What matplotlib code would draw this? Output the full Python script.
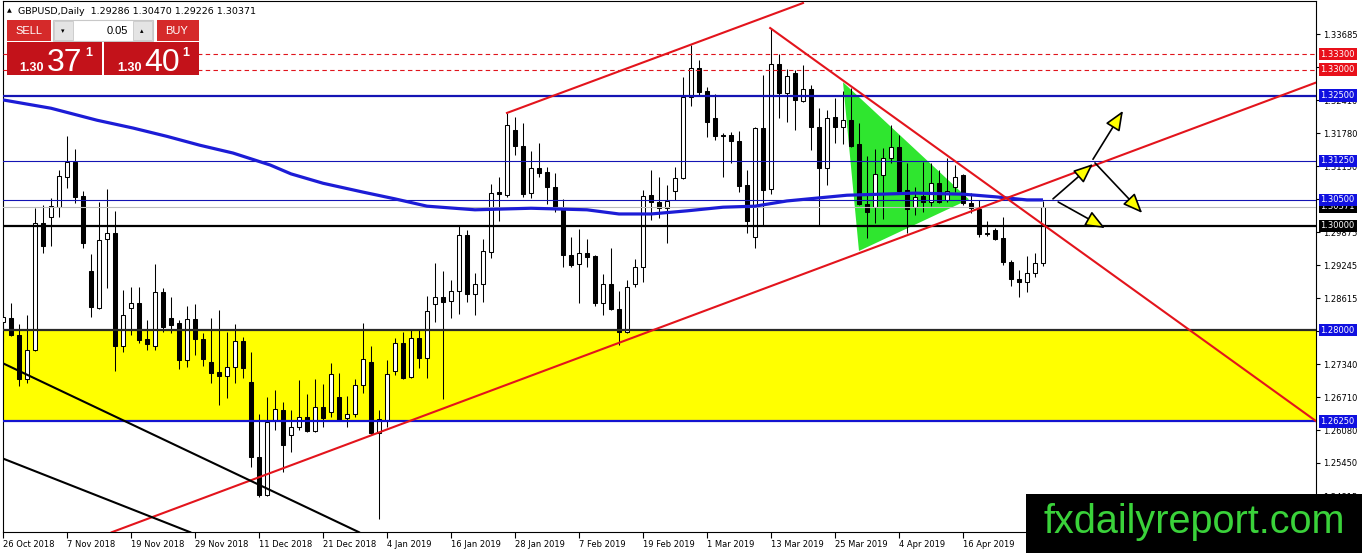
import numpy as np
import pandas as pd
import matplotlib
matplotlib.use("Agg")
import matplotlib.pyplot as plt
from matplotlib.patches import Rectangle, Polygon, FancyArrowPatch

# GBPUSD daily candles, 26 Oct 2018 .. 30 Apr 2019
opens = [
    1.2816, 1.2823, 1.2791, 1.2706, 1.2762, 1.3006, 1.3017, 1.3036, 1.3094, 1.3123,
    1.3058, 1.2914, 1.2842, 1.2975, 1.2986, 1.2770, 1.2842, 1.2852, 1.2783, 1.2770,
    1.2873, 1.2823, 1.2814, 1.2743, 1.2821, 1.2783, 1.2739, 1.2720, 1.2712, 1.2729,
    1.2779, 1.2700, 1.2556, 1.2483, 1.2627, 1.2647, 1.2599, 1.2614, 1.2633, 1.2606,
    1.2652, 1.2643, 1.2672, 1.2631, 1.2639, 1.2695, 1.2739, 1.2602, 1.2627, 1.2722,
    1.2775, 1.2710, 1.2785, 1.2746, 1.2850, 1.2864, 1.2856, 1.2875, 1.2983, 1.2869,
    1.2889, 1.2950, 1.3065, 1.3059, 1.3184, 1.3154, 1.3063, 1.3111, 1.3104, 1.3075,
    1.3034, 1.2944, 1.2927, 1.2948, 1.2942, 1.2852, 1.2889, 1.2840, 1.2796, 1.2889,
    1.2921, 1.3060, 1.3046, 1.3034, 1.3067, 1.3092, 1.3248, 1.3303, 1.3259, 1.3207,
    1.3175, 1.3175, 1.3163, 1.3079, 1.2979, 1.3188, 1.3071, 1.3311, 1.3255, 1.3294,
    1.3240, 1.3263, 1.3190, 1.3111, 1.3209, 1.3190, 1.3203, 1.3157, 1.3042, 1.3036,
    1.3098, 1.3130, 1.3152, 1.3069, 1.3036, 1.3058, 1.3046, 1.3083, 1.3050, 1.3075,
    1.3098, 1.3044, 1.3032, 1.2986, 1.2992, 1.2977, 1.2931, 1.2898, 1.2892, 1.2910,
    1.29286]
highs = [
    1.2839, 1.2852, 1.2812, 1.2829, 1.3034, 1.3040, 1.3054, 1.3107, 1.3173, 1.3148,
    1.3067, 1.2946, 1.3046, 1.3071, 1.3029, 1.2877, 1.2883, 1.2883, 1.2819, 1.2927,
    1.2881, 1.2864, 1.2819, 1.2846, 1.2850, 1.2794, 1.2823, 1.2839, 1.2796, 1.2812,
    1.2787, 1.2758, 1.2639, 1.2672, 1.2685, 1.2662, 1.2647, 1.2704, 1.2677, 1.2706,
    1.2697, 1.2737, 1.2718, 1.2673, 1.2706, 1.2814, 1.2770, 1.2647, 1.2743, 1.2785,
    1.2796, 1.2802, 1.2802, 1.2866, 1.2929, 1.2914, 1.2896, 1.3000, 1.2992, 1.2910,
    1.2975, 1.3081, 1.3094, 1.3217, 1.3209, 1.3198, 1.3144, 1.3159, 1.3113, 1.3102,
    1.3052, 1.2979, 1.2994, 1.2975, 1.2944, 1.2908, 1.2958, 1.2875, 1.2896, 1.2937,
    1.3069, 1.3107, 1.3094, 1.3079, 1.3113, 1.3286, 1.3347, 1.3319, 1.3267, 1.3253,
    1.3178, 1.3180, 1.3182, 1.3107, 1.3190, 1.3290, 1.3380, 1.3330, 1.3301, 1.3299,
    1.3309, 1.3271, 1.3226, 1.3223, 1.3246, 1.3259, 1.3265, 1.3198, 1.3134, 1.3148,
    1.3150, 1.3194, 1.3175, 1.3120, 1.3075, 1.3123, 1.3120, 1.3107, 1.3130, 1.3117,
    1.3100, 1.3063, 1.3050, 1.3010, 1.2996, 1.3017, 1.2935, 1.2915, 1.2942, 1.2948,
    1.30470]
lows = [
    1.2777, 1.2789, 1.2693, 1.2698, 1.2760, 1.2948, 1.2962, 1.3017, 1.3073, 1.3044,
    1.2958, 1.2825, 1.2840, 1.2881, 1.2722, 1.2758, 1.2791, 1.2775, 1.2762, 1.2762,
    1.2796, 1.2794, 1.2725, 1.2729, 1.2752, 1.2731, 1.2698, 1.2656, 1.2670, 1.2698,
    1.2708, 1.2537, 1.2479, 1.2481, 1.2608, 1.2528, 1.2566, 1.2608, 1.2604, 1.2604,
    1.2614, 1.2633, 1.2625, 1.2614, 1.2633, 1.2679, 1.2599, 1.2437, 1.2614, 1.2714,
    1.2706, 1.2708, 1.2727, 1.2708, 1.2816, 1.2668, 1.2823, 1.2831, 1.2854, 1.2829,
    1.2854, 1.2938, 1.3010, 1.3056, 1.3136, 1.3056, 1.3054, 1.3094, 1.3042, 1.3027,
    1.2921, 1.2921, 1.2852, 1.2921, 1.2846, 1.2829, 1.2838, 1.2771, 1.2794, 1.2883,
    1.2892, 1.3011, 1.3015, 1.2967, 1.3050, 1.3090, 1.3230, 1.3251, 1.3171, 1.3165,
    1.3094, 1.3120, 1.3065, 1.2986, 1.2958, 1.3002, 1.3061, 1.3207, 1.3200, 1.3184,
    1.3238, 1.3146, 1.3002, 1.3079, 1.3159, 1.3157, 1.3152, 1.3040, 1.2977, 1.3006,
    1.3013, 1.3120, 1.3063, 1.2986, 1.3021, 1.3027, 1.3038, 1.3044, 1.3046, 1.3065,
    1.3040, 1.3025, 1.2979, 1.2981, 1.2973, 1.2925, 1.2885, 1.2864, 1.2873, 1.2902,
    1.29226]
closes = [
    1.2825, 1.2791, 1.2706, 1.2762, 1.3006, 1.2962, 1.3038, 1.3096, 1.3123, 1.3056,
    1.2967, 1.2844, 1.2973, 1.2986, 1.2770, 1.2829, 1.2852, 1.2781, 1.2773, 1.2873,
    1.2806, 1.2810, 1.2743, 1.2821, 1.2783, 1.2745, 1.2718, 1.2712, 1.2729, 1.2779,
    1.2727, 1.2556, 1.2483, 1.2624, 1.2649, 1.2579, 1.2614, 1.2633, 1.2606, 1.2652,
    1.2631, 1.2716, 1.2627, 1.2639, 1.2695, 1.2745, 1.2602, 1.2629, 1.2716, 1.2775,
    1.2708, 1.2785, 1.2746, 1.2837, 1.2864, 1.2854, 1.2875, 1.2983, 1.2869, 1.2889,
    1.2952, 1.3063, 1.3061, 1.3194, 1.3154, 1.3061, 1.3111, 1.3102, 1.3075, 1.3034,
    1.2944, 1.2925, 1.2948, 1.2940, 1.2852, 1.2889, 1.2840, 1.2796, 1.2883, 1.2921,
    1.3058, 1.3046, 1.3034, 1.3048, 1.3092, 1.3248, 1.3303, 1.3257, 1.3200, 1.3173,
    1.3173, 1.3163, 1.3077, 1.3010, 1.3188, 1.3069, 1.3311, 1.3255, 1.3288, 1.3242,
    1.3263, 1.3190, 1.3111, 1.3207, 1.3190, 1.3203, 1.3154, 1.3042, 1.3027, 1.3100,
    1.3130, 1.3152, 1.3067, 1.3032, 1.3056, 1.3046, 1.3083, 1.3046, 1.3067, 1.3094,
    1.3044, 1.3034, 1.2985, 1.2985, 1.2975, 1.2931, 1.2898, 1.2892, 1.2910, 1.2929,
    1.30371]

# moving average, sampled along the curve (bar index, price)
ma_idx = [0, 6, 11.75, 16.25, 20.5, 24.6, 28.75, 33.4, 36, 40, 45, 49, 53, 59, 66,
          73, 77, 81, 85.5, 90, 94, 98, 105.5, 114, 120, 124, 128, 130]
ma_vals = [1.3242, 1.3226, 1.3203, 1.3188, 1.3172, 1.3155, 1.3140, 1.3117, 1.3100,
           1.3082, 1.3065, 1.3052, 1.3038, 1.3031, 1.3034, 1.3031, 1.3023, 1.3023,
           1.3029, 1.3036, 1.3038, 1.3048, 1.3059, 1.3063, 1.3061, 1.3056, 1.3050,
           1.3050]

# horizontal levels
red_levels = [1.3330, 1.3300]
blue_levels = [1.3250, 1.3125, 1.3050]
key_level = 1.3000
zone = (1.2625, 1.2800)
current_price = closes[-1]

price_ticks = [1.33685, 1.33050, 1.32410, 1.31780, 1.31150, 1.30515, 1.29875,
               1.29245, 1.28615, 1.27980, 1.27340, 1.26710, 1.26080, 1.25450, 1.24815]
# labels that sit completely under a level badge on the chart
hidden_ticks = [1.33050, 1.30515, 1.27980]

# drawn objects (bar index, price)
channel_upper = [(63.0, 1.3217), (100.0, 1.3428)]
channel_lower = [(13.6, 1.2412), (164.25, 1.3276)]
down_line = [(95.9, 1.3380), (164.25, 1.2624)]
black_lines = [[(-0.1, 1.2737), (44.5, 1.2412)], [(-0.1, 1.2554), (23.4, 1.2412)]]
pennant = [(105.0, 1.3276), (107.0, 1.2952), (120.75, 1.3051)]
arrows = [[(131.25, 1.3052), (136.25, 1.3119)],
          [(136.25, 1.3128), (140.0, 1.3221)],
          [(136.5, 1.3121), (142.4, 1.3025)],
          [(131.9, 1.3046), (137.75, 1.2996)]]

dates = pd.bdate_range("2018-10-26", "2019-04-30")
dates = dates[~dates.isin(pd.to_datetime(["2018-12-25", "2019-01-01"]))]

W, H = 1362, 553
fig = plt.figure(figsize=(W / 100, H / 100), dpi=100)
ax = fig.add_axes([2.5 / W, (H - 532) / H, 1314 / W, 531 / H])

o = np.array(opens); c = np.array(closes); hi = np.array(highs); lo = np.array(lows)
x = np.arange(len(o))

ax.axhspan(zone[0], zone[1], color="#ffff00", lw=0, zorder=0.5)
ax.add_patch(Polygon(pennant, closed=True, fc="#2fe62f", ec="none", zorder=1))

# candles
ax.vlines(x, lo, hi, color="black", lw=0.75, zorder=3)
body_lo = np.minimum(o, c)
body_h = np.maximum(np.abs(c - o), 0.00008)
ax.bar(x, body_h, bottom=body_lo, width=0.62,
       color=np.where(c >= o, "white", "black"), edgecolor="black",
       linewidth=0.75, zorder=4)

for lv in red_levels:
    ax.axhline(lv, color="#e0141c", lw=0.8, dashes=(4, 3), zorder=5)
ax.axhline(blue_levels[0], color="#1414b4", lw=1.6, zorder=5)
for lv in blue_levels[1:]:
    ax.axhline(lv, color="#1414b4", lw=0.8, zorder=5)
ax.axhline(current_price, color="#bdbdbd", lw=0.8, zorder=4.5)
ax.axhline(key_level, color="black", lw=1.6, zorder=5)
ax.axhline(zone[1], color="#2a2a2a", lw=1.6, zorder=5)
ax.axhline(zone[0], color="#1414d0", lw=1.6, zorder=5)

ax.plot(ma_idx, ma_vals, color="#1c1cd6", lw=2.3, zorder=5.5,
        solid_capstyle="butt", solid_joinstyle="round")

for seg in [channel_upper, channel_lower, down_line]:
    xs, ys = zip(*seg)
    ax.plot(xs, ys, color="#e3141c", lw=1.5, zorder=6)
for seg in black_lines:
    xs, ys = zip(*seg)
    ax.plot(xs, ys, color="black", lw=1.5, zorder=6)

for start, end in arrows:
    ax.add_patch(FancyArrowPatch(start, end, arrowstyle="-|>,head_length=1.2,head_width=0.5",
                                 mutation_scale=10, shrinkA=0, shrinkB=0,
                                 fc="#ffff00", ec="black", lw=1.2, zorder=7))

ax.set_xlim(-0.0625, 164.19)
ax.set_ylim(1.24124, 1.34319)

# axes, MT4 style
ax.yaxis.tick_right()
ax.set_yticks(price_ticks, ["" if v in hidden_ticks else f"{v:.5f}" for v in price_ticks])
ax.tick_params(axis="y", labelsize=6, length=3, width=0.8, pad=2)
xt = x[::8]
ax.set_xticks(xt, [f"{d.day} {d:%b %Y}" for d in dates[xt]])
ax.tick_params(axis="x", labelsize=6, length=4, width=0.8, pad=1.5)
for lab in ax.get_xticklabels():
    lab.set_ha("left")
for sp in ax.spines.values():
    sp.set_linewidth(0.8)


def badge(level, text, color):
    ax.annotate(text, xy=(1, level), xycoords=("axes fraction", "data"),
                xytext=(4, 0), textcoords="offset pixels", fontsize=6,
                color="white", va="center", ha="left", annotation_clip=False,
                bbox=dict(boxstyle="square,pad=0.22", fc=color, ec="none"), zorder=9)


badge(current_price, f"{current_price:.5f}", "black")
for lv in red_levels:
    badge(lv, f"{lv:.5f}", "#e8101a")
for lv in blue_levels:
    badge(lv, f"{lv:.5f}", "#1010e0")
badge(key_level, f"{key_level:.5f}", "black")
badge(zone[1], f"{zone[1]:.5f}", "#1010e0")
badge(zone[0], f"{zone[0]:.5f}", "#1010e0")

# overlay in pixel coordinates: header, trade panel, watermark
ov = fig.add_axes([0, 0, 1, 1], zorder=10)
ov.set_xlim(0, W)
ov.set_ylim(H, 0)
ov.axis("off")
ov.patch.set_alpha(0)

ov.text(7, 11, "\u25b2", fontsize=4.5, va="center")
ov.text(18, 11, f"GBPUSD,Daily  {opens[-1]:.5f} {highs[-1]:.5f} {lows[-1]:.5f} {closes[-1]:.5f}",
        fontsize=6.8, va="center")

ov.add_patch(Rectangle((7, 20), 44, 21, fc="#d52a2a", ec="none"))
ov.add_patch(Rectangle((157, 20), 42, 21, fc="#d52a2a", ec="none"))
ov.add_patch(Rectangle((53, 20), 100, 21, fc="white", ec="#c8c8c8", lw=0.8))
ov.add_patch(Rectangle((54, 21), 19, 19, fc="#e4e4e4", ec="#c8c8c8", lw=0.6))
ov.add_patch(Rectangle((133, 21), 19, 19, fc="#e4e4e4", ec="#c8c8c8", lw=0.6))
ov.add_patch(Rectangle((7, 42), 95, 33, fc="#c3121a", ec="none"))
ov.add_patch(Rectangle((104, 42), 95, 33, fc="#c3121a", ec="none"))
ov.text(29, 31, "SELL", fontsize=8, color="white", ha="center", va="center", family="Liberation Sans")
ov.text(177, 31, "BUY", fontsize=8, color="white", ha="center", va="center", family="Liberation Sans")
ov.text(63, 31, "\u25be", fontsize=5, ha="center", va="center")
ov.text(142, 31, "\u25b4", fontsize=5, ha="center", va="center")
ov.text(128, 31, "0.05", fontsize=8, ha="right", va="center", family="Liberation Sans")
for x0, big in [(7, "37"), (104, "40")]:
    ov.text(x0 + 25, 71, "1.30", fontsize=9, color="white", ha="center", va="baseline",
            family="Liberation Sans", weight="bold")
    ov.text(x0 + 58, 71, big, fontsize=23, color="white", ha="center", va="baseline",
            family="Liberation Sans")
    ov.text(x0 + 82, 56, "1", fontsize=9, color="white", ha="center", va="baseline",
            family="Liberation Sans", weight="bold")

ov.add_patch(Rectangle((1026, 494), W - 1026, H - 494, fc="black", ec="none"))
ov.text(1194, 533, "fxdailyreport.com", fontsize=28.5, color="#3ad23a", ha="center",
        va="baseline", family="Liberation Sans")

fig.savefig("out.png", dpi=100)
